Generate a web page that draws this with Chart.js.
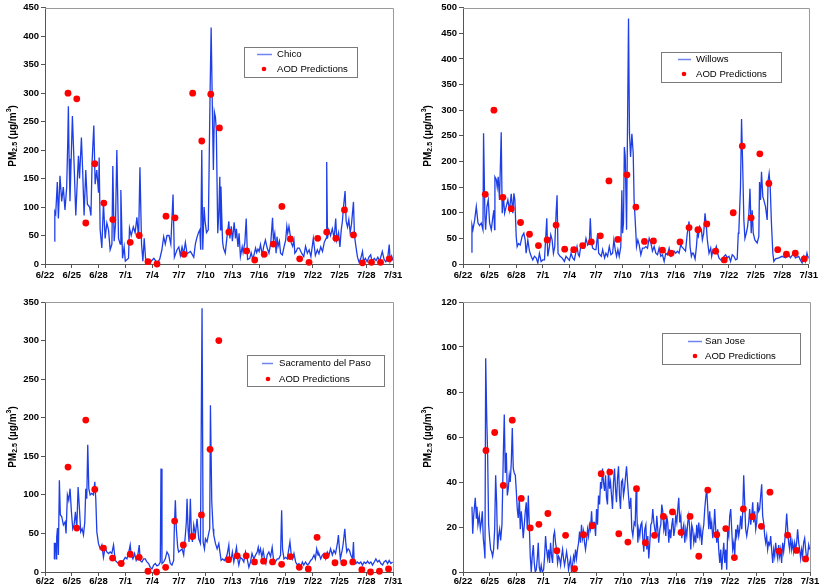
<!DOCTYPE html>
<html><head><meta charset="utf-8">
<script src="https://cdn.jsdelivr.net/npm/chart.js@4/dist/chart.umd.min.js"></script>
<style>
html,body{margin:0;padding:0;background:#fff;width:820px;height:588px;overflow:hidden}
canvas{position:absolute}
</style></head><body>
<canvas id="c1" width="410" height="294" style="left:0;top:0"></canvas>
<canvas id="c2" width="410" height="294" style="left:410px;top:0"></canvas>
<canvas id="c3" width="410" height="294" style="left:0;top:294px"></canvas>
<canvas id="c4" width="410" height="294" style="left:410px;top:294px"></canvas>
<script>
// x = days since 6/22
const dateLabels = ['6/22','6/25','6/28','7/1','7/4','7/7','7/10','7/13','7/16','7/19','7/22','7/25','7/28','7/31'];
const aodLabel = 'AOD Predictions';

const chicoPM = [[1.05,40],[1.1,92],[1.2,88],[1.38,144],[1.5,80],[1.68,155],[1.87,110],[2.05,135],[2.24,95],[2.43,135],[2.55,215],[2.62,277],[2.7,185],[2.8,110],[3.07,260],[3.25,180],[3.45,85],[3.63,150],[3.75,190],[3.87,150],[4.08,222],[4.23,160],[4.38,85],[4.57,165],[4.75,105],[5.0,100],[5.15,85],[5.28,180],[5.47,243],[5.62,140],[5.8,165],[6.0,125],[6.07,187],[6.18,60],[6.37,28],[6.55,108],[6.74,45],[6.93,72],[7.12,60],[7.3,25],[7.5,35],[7.6,172],[7.75,40],[7.9,70],[8.05,200],[8.24,45],[8.43,35],[8.5,130],[8.69,10],[8.87,30],[9.0,5],[9.36,10],[9.47,63],[9.66,50],[9.9,65],[10.1,55],[10.3,82],[10.49,45],[10.64,170],[10.82,35],[10.97,5],[11.12,45],[11.27,10],[11.42,5],[11.8,3],[12.2,10],[12.55,2],[12.85,8],[13.1,25],[13.3,48],[13.48,35],[13.67,50],[13.9,50],[14.1,35],[14.35,122],[14.5,12],[14.8,25],[15.0,30],[15.17,15],[15.36,30],[15.54,18],[15.73,38],[15.92,18],[16.3,22],[16.67,12],[16.85,35],[17.0,45],[17.2,55],[17.35,60],[17.45,25],[17.57,200],[17.68,25],[17.83,100],[17.94,75],[18.1,55],[18.3,60],[18.5,300],[18.62,415],[18.76,270],[18.87,165],[18.98,267],[19.1,258],[19.2,235],[19.36,54],[19.48,90],[19.59,153],[19.66,60],[19.72,136],[19.8,89],[19.9,40],[20.0,28],[20.2,19],[20.4,48],[20.6,75],[20.72,45],[20.88,66],[21.0,40],[21.2,73],[21.35,45],[21.45,62],[21.63,30],[21.75,54],[21.9,13],[22.1,30],[22.2,20],[22.4,38],[22.55,80],[22.7,8],[22.95,10],[23.1,20],[23.3,8],[23.6,28],[23.72,20],[23.87,26],[24.0,22],[24.15,34],[24.35,16],[24.5,30],[24.7,42],[24.9,28],[25.1,19],[25.3,37],[25.5,81],[25.6,42],[25.75,54],[25.9,19],[26.0,48],[26.12,31],[26.27,40],[26.4,19],[26.6,16],[26.8,31],[26.97,42],[27.1,66],[27.2,54],[27.34,66],[27.45,54],[27.6,37],[27.75,31],[27.9,42],[28.0,19],[28.15,22],[28.3,28],[28.5,28],[28.76,19],[29.0,13],[29.2,31],[29.4,19],[29.6,25],[29.8,13],[30.07,45],[30.3,15],[30.52,25],[30.7,18],[30.9,30],[31.1,22],[31.3,38],[31.5,45],[31.57,179],[31.66,45],[31.8,60],[32.0,50],[32.2,62],[32.4,45],[32.58,80],[32.7,42],[32.9,55],[33.05,30],[33.2,60],[33.33,75],[33.45,100],[33.63,128],[33.75,75],[33.9,65],[34.05,78],[34.2,55],[34.35,70],[34.57,109],[34.68,50],[34.85,30],[35.02,12],[35.2,3],[35.39,10],[35.58,22],[35.7,5],[35.9,10],[36.1,4],[36.3,12],[36.5,16],[36.65,4],[36.9,10],[37.1,6],[37.3,12],[37.5,5],[37.8,22],[38.0,8],[38.2,4],[38.4,10],[38.58,34],[38.68,5],[38.85,14],[39.0,6]];
const chicoAOD = [[2.58,300],[3.56,290],[4.57,72],[5.58,176],[6.59,107],[7.6,78],[9.55,38],[10.56,50],[11.54,4],[12.55,0],[13.56,84],[14.57,81],[15.58,17],[16.55,300],[17.57,216],[18.58,298],[19.55,239],[20.6,56],[22.6,23],[23.5,7],[24.57,17],[25.58,35],[26.55,101],[27.5,44],[28.54,9],[29.59,3],[30.56,45],[31.57,56],[32.6,45],[33.56,95],[34.57,51],[35.58,2],[36.59,3],[37.6,3],[38.57,9]];

const willowsPM = [[0.94,23],[1.01,76],[1.12,67],[1.31,85],[1.5,112],[1.69,80],[1.87,75],[2.06,80],[2.25,67],[2.32,255],[2.47,92],[2.55,67],[2.7,112],[2.85,125],[3.0,80],[3.19,67],[3.37,92],[3.49,105],[3.56,67],[3.6,170],[3.75,165],[3.86,150],[3.97,170],[4.12,125],[4.31,257],[4.42,99],[4.57,131],[4.69,99],[4.87,112],[5.06,125],[5.25,105],[5.44,137],[5.62,99],[5.74,138],[5.85,125],[6.0,54],[6.11,34],[6.26,40],[6.45,37],[6.67,54],[6.86,60],[7.01,47],[7.12,21],[7.31,47],[7.5,25],[7.69,15],[7.87,8],[8.06,15],[8.25,12],[8.44,2],[8.62,21],[8.81,5],[9.0,8],[9.19,8],[9.45,89],[9.56,15],[9.75,34],[9.9,57],[10.05,47],[10.2,21],[10.35,34],[10.5,99],[10.61,134],[10.72,21],[10.95,15],[11.17,12],[11.44,5],[11.62,15],[12.0,7],[12.19,21],[12.37,12],[12.56,8],[12.75,25],[12.86,34],[13.01,18],[13.12,15],[13.31,38],[13.5,31],[13.69,31],[13.87,50],[14.06,37],[14.25,41],[14.36,89],[14.47,47],[14.62,31],[14.85,28],[15.0,28],[15.19,60],[15.3,21],[15.45,18],[15.6,15],[15.75,28],[15.97,12],[16.12,21],[16.31,15],[16.5,34],[16.69,18],[16.87,21],[17.02,47],[17.17,28],[17.32,15],[17.47,28],[17.62,15],[17.8,34],[17.92,144],[18.0,60],[18.1,80],[18.2,228],[18.3,209],[18.45,67],[18.67,479],[18.78,254],[18.9,209],[19.05,254],[19.2,215],[19.3,125],[19.5,60],[19.57,34],[19.72,47],[19.87,38],[20.06,18],[20.25,31],[20.44,31],[20.62,34],[20.81,31],[21.0,50],[21.19,41],[21.37,25],[21.56,34],[21.75,21],[21.94,18],[22.12,31],[22.31,15],[22.5,18],[22.69,5],[22.87,21],[23.06,18],[23.25,31],[23.44,15],[23.62,18],[23.81,25],[24.0,21],[24.18,25],[24.37,21],[24.56,38],[24.67,34],[24.82,31],[25.1,25],[25.3,60],[25.5,83],[25.61,34],[25.76,15],[25.87,21],[25.99,21],[26.18,10],[26.33,34],[26.44,60],[26.55,54],[26.7,73],[26.89,67],[27.0,47],[27.15,60],[27.3,99],[27.45,73],[27.56,47],[27.75,21],[27.94,31],[28.05,15],[28.2,28],[28.42,25],[28.57,34],[28.72,21],[28.87,12],[29.06,8],[29.25,5],[29.44,15],[29.62,18],[29.81,12],[30.0,15],[30.18,5],[30.37,18],[30.56,15],[30.75,8],[30.93,10],[31.05,60],[31.12,67],[31.3,150],[31.42,283],[31.55,190],[31.68,86],[31.8,50],[31.95,60],[32.1,73],[32.25,99],[32.37,147],[32.51,60],[32.62,105],[32.74,60],[32.92,47],[33.18,41],[33.37,54],[33.45,160],[33.56,125],[33.67,180],[33.82,131],[33.93,125],[34.12,112],[34.31,86],[34.42,164],[34.53,177],[34.65,151],[34.79,80],[34.95,21],[35.06,5],[35.25,10],[35.62,12],[36.0,15],[36.37,12],[36.74,18],[36.93,12],[37.3,21],[37.49,12],[37.86,15],[38.05,8],[38.25,2],[38.44,15],[38.62,5],[38.8,21],[38.92,12],[39.0,15]];
const willowsAOD = [[2.51,136],[3.49,300],[4.5,130],[5.44,108],[6.49,81],[7.5,58],[8.51,36],[9.49,47],[10.5,76],[11.47,29],[12.49,28],[13.5,36],[14.47,43],[15.49,55],[16.46,162],[17.47,48],[18.49,174],[19.5,111],[20.47,44],[21.48,45],[22.5,27],[23.47,21],[24.48,43],[25.5,71],[26.5,67],[27.5,78],[28.5,25],[29.47,8],[30.48,100],[31.5,230],[32.5,90],[33.48,215],[34.5,157],[35.5,28],[36.48,19],[37.48,21],[38.5,10]];

const sacPM = [[1.01,17],[1.05,37],[1.16,37],[1.24,17],[1.31,45],[1.4,57],[1.5,22],[1.61,119],[1.72,74],[1.87,72],[2.06,61],[2.25,65],[2.36,50],[2.51,100],[2.66,93],[2.81,108],[2.96,78],[3.11,56],[3.26,61],[3.41,78],[3.56,56],[3.71,110],[3.86,82],[4.0,52],[4.16,56],[4.31,48],[4.46,65],[4.57,108],[4.68,95],[4.79,165],[4.91,108],[5.06,100],[5.24,102],[5.43,100],[5.58,117],[5.69,95],[5.81,52],[5.99,37],[6.18,30],[6.37,35],[6.55,19],[6.74,32],[6.93,26],[7.12,24],[7.3,26],[7.49,24],[7.68,35],[7.87,15],[8.05,13],[8.24,11],[8.43,13],[8.61,11],[8.8,15],[8.99,19],[9.18,17],[9.36,24],[9.55,35],[9.66,22],[9.85,17],[10.04,24],[10.22,15],[10.37,19],[10.56,35],[10.67,15],[10.86,13],[11.05,17],[11.24,17],[11.42,13],[11.61,11],[11.8,6],[11.99,4],[12.17,9],[12.36,11],[12.55,8],[12.73,9],[12.92,13],[13.0,134],[13.11,11],[13.3,13],[13.48,17],[13.67,26],[13.86,22],[14.04,11],[14.23,9],[14.42,15],[14.49,56],[14.61,93],[14.72,56],[14.87,32],[14.98,26],[15.17,28],[15.36,30],[15.54,22],[15.73,48],[15.84,65],[15.92,95],[16.03,56],[16.14,39],[16.29,95],[16.4,52],[16.52,39],[16.67,61],[16.85,48],[17.04,69],[17.23,43],[17.42,37],[17.6,342],[17.72,39],[17.87,30],[17.98,43],[18.16,39],[18.31,48],[18.46,56],[18.54,216],[18.69,91],[18.84,56],[18.91,48],[19.1,37],[19.29,30],[19.48,37],[19.6,26],[19.74,15],[19.9,17],[20.1,15],[20.3,19],[20.4,22],[20.6,35],[20.72,15],[20.87,17],[21.0,26],[21.16,13],[21.3,22],[21.46,32],[21.6,17],[21.72,9],[21.9,19],[22.1,17],[22.28,13],[22.47,26],[22.66,17],[22.85,6],[23.03,13],[23.2,24],[23.4,17],[23.6,22],[23.78,26],[23.9,32],[24.0,24],[24.15,30],[24.3,19],[24.45,28],[24.6,17],[24.75,11],[24.9,22],[25.09,26],[25.28,20],[25.46,32],[25.6,17],[25.8,13],[26.03,17],[26.2,17],[26.4,22],[26.52,80],[26.62,30],[26.78,17],[26.97,19],[27.15,17],[27.3,28],[27.45,39],[27.6,22],[27.75,17],[27.9,24],[28.09,13],[28.28,9],[28.46,11],[28.65,6],[28.84,13],[29.0,9],[29.2,13],[29.4,9],[29.58,11],[29.77,15],[29.95,17],[30.15,22],[30.3,17],[30.45,30],[30.6,22],[30.7,24],[30.9,17],[31.08,22],[31.27,24],[31.46,17],[31.64,26],[31.83,22],[32.0,30],[32.2,22],[32.38,28],[32.56,24],[32.77,37],[32.88,48],[33.0,30],[33.1,17],[33.3,28],[33.4,35],[33.6,56],[33.7,39],[33.82,26],[33.97,30],[34.12,28],[34.27,22],[34.46,17],[34.57,39],[34.65,13],[34.83,11],[35.0,13],[35.2,11],[35.39,13],[35.58,9],[35.77,13],[35.96,11],[36.15,14],[36.33,11],[36.52,13],[36.7,9],[36.9,13],[37.08,17],[37.27,13],[37.45,15],[37.64,11],[37.83,9],[38.0,13],[38.2,15],[38.4,11],[38.57,15],[38.76,11],[38.95,13]];
const sacAOD = [[2.58,136],[3.56,57],[4.57,197],[5.58,107],[6.55,31],[7.57,18],[8.54,11],[9.55,23],[10.56,19],[11.54,1],[12.5,0],[13.52,6],[14.53,66],[15.5,35],[16.52,46],[17.53,74],[18.5,159],[19.48,300],[20.56,16],[21.54,21],[22.55,21],[23.48,13],[24.49,14],[25.5,13],[26.52,10],[27.49,20],[28.5,6],[29.51,4],[30.49,45],[31.49,21],[32.5,12],[33.48,12],[34.49,13],[35.51,3],[36.48,0],[37.48,1],[38.5,4]];

const sjPM = [[1.01,29],[1.09,17],[1.2,25],[1.38,33],[1.5,24],[1.57,29],[1.68,21],[1.83,25],[1.95,19],[2.06,22],[2.17,27],[2.28,15],[2.4,10],[2.47,6],[2.55,95],[2.66,70],[2.77,52],[2.88,21],[2.99,15],[3.11,10],[3.22,9],[3.33,7],[3.44,10],[3.56,19],[3.67,43],[3.78,31],[3.89,10],[4.0,16],[4.12,19],[4.23,14],[4.38,21],[4.53,52],[4.64,70],[4.75,44],[4.87,53],[4.98,34],[5.09,37],[5.2,43],[5.31,40],[5.43,49],[5.54,64],[5.65,46],[5.76,44],[5.88,43],[5.99,36],[6.1,28],[6.21,24],[6.33,33],[6.44,19],[6.55,27],[6.66,22],[6.77,15],[6.89,21],[7.0,27],[7.11,31],[7.22,19],[7.34,34],[7.45,21],[7.56,7],[7.67,0],[7.78,7],[7.9,12],[8.01,4],[8.12,0],[8.23,1],[8.35,6],[8.46,13],[8.57,2],[8.68,0],[8.79,3],[8.91,0],[9.06,1],[9.17,7],[9.28,16],[9.39,10],[9.51,6],[9.62,10],[9.73,4],[9.84,13],[9.96,7],[10.07,4],[10.18,16],[10.29,18],[10.4,13],[10.52,10],[10.63,4],[10.74,7],[10.85,6],[10.97,3],[11.08,7],[11.19,10],[11.3,6],[11.41,3],[11.53,6],[11.64,9],[11.75,6],[11.86,1],[11.98,4],[12.09,6],[12.2,0],[12.31,3],[12.43,7],[12.54,5],[12.65,10],[12.76,6],[12.87,10],[12.99,13],[13.1,18],[13.21,13],[13.32,21],[13.44,15],[13.55,18],[13.66,13],[13.77,10],[13.89,14],[14.0,19],[14.11,16],[14.22,21],[14.33,19],[14.45,27],[14.56,19],[14.67,22],[14.78,22],[14.9,16],[15.01,28],[15.12,21],[15.23,34],[15.35,30],[15.46,40],[15.57,37],[15.68,46],[15.79,40],[15.91,36],[16.02,43],[16.13,33],[16.24,30],[16.35,46],[16.47,37],[16.58,40],[16.69,34],[16.8,28],[16.92,40],[17.03,46],[17.14,37],[17.25,31],[17.37,42],[17.48,47],[17.59,34],[17.7,28],[17.81,40],[17.93,41],[18.04,34],[18.15,37],[18.26,42],[18.38,47],[18.49,40],[18.6,34],[18.71,28],[18.86,33],[18.97,19],[19.09,16],[19.24,22],[19.35,21],[19.46,37],[19.54,27],[19.65,13],[19.76,19],[19.87,16],[19.99,21],[20.1,22],[20.21,15],[20.32,9],[20.43,19],[20.55,21],[20.66,10],[20.77,16],[20.88,6],[21.0,13],[21.11,21],[21.22,22],[21.33,28],[21.45,22],[21.56,19],[21.67,16],[21.78,25],[21.89,19],[22.0,13],[22.12,19],[22.23,21],[22.34,30],[22.45,27],[22.57,19],[22.68,22],[22.79,16],[22.9,25],[23.01,22],[23.13,13],[23.24,19],[23.35,15],[23.47,21],[23.58,24],[23.69,16],[23.8,19],[23.91,25],[24.03,22],[24.14,28],[24.25,33],[24.36,22],[24.48,25],[24.59,15],[24.7,19],[24.81,21],[24.93,13],[25.04,19],[25.15,16],[25.26,22],[25.37,25],[25.49,19],[25.6,10],[25.71,21],[25.82,19],[25.94,13],[26.05,16],[26.16,13],[26.27,21],[26.38,15],[26.5,22],[26.61,16],[26.72,19],[26.83,12],[26.95,18],[27.06,21],[27.17,28],[27.28,33],[27.39,37],[27.51,28],[27.62,19],[27.73,27],[27.84,19],[27.95,22],[28.07,15],[28.18,19],[28.29,28],[28.4,19],[28.52,13],[28.63,19],[28.74,10],[28.86,4],[28.97,10],[29.08,1],[29.19,7],[29.31,13],[29.42,4],[29.53,10],[29.64,1],[29.75,19],[29.87,16],[29.98,25],[30.09,28],[30.2,19],[30.31,10],[30.43,13],[30.54,7],[30.65,19],[30.76,16],[30.87,21],[30.99,16],[31.1,19],[31.21,25],[31.33,19],[31.44,27],[31.55,43],[31.66,31],[31.77,19],[31.89,16],[32.0,19],[32.11,22],[32.22,28],[32.34,21],[32.45,25],[32.56,31],[32.67,22],[32.78,27],[32.9,19],[33.01,22],[33.12,31],[33.23,27],[33.34,28],[33.46,34],[33.57,39],[33.68,25],[33.79,22],[33.91,16],[34.02,13],[34.13,16],[34.24,10],[34.35,13],[34.47,12],[34.58,16],[34.69,10],[34.81,4],[34.92,10],[35.03,7],[35.14,13],[35.25,9],[35.37,6],[35.48,12],[35.59,7],[35.7,10],[35.81,4],[35.93,13],[36.04,9],[36.15,13],[36.27,19],[36.38,26],[36.49,19],[36.6,13],[36.71,10],[36.83,16],[36.94,10],[37.05,13],[37.16,9],[37.28,13],[37.39,10],[37.5,13],[37.61,19],[37.73,13],[37.84,10],[37.95,6],[38.06,10],[38.17,7],[38.28,13],[38.4,15],[38.51,10],[38.62,6],[38.73,7],[38.85,12],[38.96,10]];
const sjAOD = [[2.58,54],[3.56,62],[4.53,38.5],[5.54,67.5],[6.55,32.7],[7.56,19.6],[8.53,21.2],[9.54,26],[10.55,9.5],[11.53,16.3],[12.54,1.5],[13.55,16.6],[14.52,20.6],[15.53,43.7],[16.5,44.4],[17.51,17],[18.53,13.3],[19.5,37],[20.5,13],[21.52,16.3],[22.53,24.7],[23.54,26.7],[24.51,17.6],[25.52,24.7],[26.5,7],[27.51,36.4],[28.52,16.6],[29.53,19.3],[30.5,6.4],[31.51,28],[32.52,24.6],[33.53,20.3],[34.5,35.5],[35.52,9.3],[36.49,16.4],[37.5,9.6],[38.51,5.8]];

const FONT = "'Liberation Sans', Arial, sans-serif";
const LINE_COLOR = '#1f3fe6';
const LEGEND_LINE_COLOR = '#6f84f2';
const DOT_COLOR = '#ff0000';
Chart.defaults.font.family = FONT;
Chart.defaults.color = '#000';

const framePlugin = {
  id: 'frame',
  afterDraw(chart) {
    const {ctx, chartArea: a} = chart;
    ctx.save();
    ctx.strokeStyle = '#9a9a9a';
    ctx.lineWidth = 1;
    ctx.beginPath();
    ctx.moveTo(a.left, Math.round(a.top) + 0.5);
    ctx.lineTo(Math.round(a.right) + 0.5, Math.round(a.top) + 0.5);
    ctx.lineTo(Math.round(a.right) + 0.5, a.bottom);
    ctx.stroke();
    ctx.restore();
  }
};

const yTitlePlugin = {
  id: 'yTitle',
  afterDraw(chart, args, o) {
    const {ctx, chartArea: a} = chart;
    const parts = [
      {t: 'PM', s: 10, dy: 0},
      {t: '2.5', s: 7, dy: 2.5},
      {t: ' (\u00B5g/m', s: 10, dy: 0},
      {t: '3', s: 7, dy: -3.5},
      {t: ')', s: 10, dy: 0}
    ];
    ctx.save();
    ctx.translate(a.left - o.offset, (a.top + a.bottom) / 2);
    ctx.rotate(-Math.PI / 2);
    ctx.fillStyle = '#000';
    ctx.textBaseline = 'middle';
    ctx.textAlign = 'left';
    let total = 0;
    parts.forEach(p => { ctx.font = 'bold ' + p.s + 'px ' + FONT; p.w = ctx.measureText(p.t).width; total += p.w; });
    let x = -total / 2;
    parts.forEach(p => { ctx.font = 'bold ' + p.s + 'px ' + FONT; ctx.fillText(p.t, x, p.dy); x += p.w; });
    ctx.restore();
  }
};

const boxLegendPlugin = {
  id: 'boxLegend',
  afterDraw(chart, args, o) {
    const ctx = chart.ctx;
    const [bx, by, bw, bh] = o.box;
    const ds = chart.data.datasets;
    const lineDs = ds.find(d => d.showLine);
    const dotDs = ds.find(d => !d.showLine);
    ctx.save();
    ctx.fillStyle = '#fff';
    ctx.fillRect(bx, by, bw, bh);
    ctx.strokeStyle = '#7a7a7a';
    ctx.lineWidth = 1;
    ctx.strokeRect(bx + 0.5, by + 0.5, bw, bh);
    ctx.strokeStyle = LEGEND_LINE_COLOR;
    ctx.lineWidth = 1.5;
    ctx.beginPath();
    ctx.moveTo(o.lineX[0], o.row1 + 0.5);
    ctx.lineTo(o.lineX[1], o.row1 + 0.5);
    ctx.stroke();
    ctx.fillStyle = dotDs.backgroundColor;
    ctx.beginPath();
    ctx.arc(o.dotX, o.row2, 2.3, 0, Math.PI * 2);
    ctx.fill();
    ctx.fillStyle = '#000';
    ctx.font = '9.6px ' + FONT;
    ctx.textBaseline = 'middle';
    ctx.fillText(lineDs.label, o.textX, o.row1 + 0.5);
    ctx.fillText(dotDs.label, o.textX, o.row2 + 0.5);
    ctx.restore();
  }
};

function makeChart(id, station, pm, aod, yMax, yStep, g) {
  const tickFont = {size: 9.5, family: FONT, weight: 'bold'};
  return new Chart(document.getElementById(id), {
    type: 'scatter',
    data: {
      datasets: [
        {label: aodLabel, data: aod.map(([x, y]) => ({x, y})), showLine: false, order: 0,
         pointRadius: 3.4, pointHoverRadius: 3.4, backgroundColor: DOT_COLOR, borderColor: DOT_COLOR, borderWidth: 0, clip: false},
        {label: station, data: pm.map(([x, y]) => ({x, y})), showLine: true, order: 1,
         pointRadius: 0, pointHoverRadius: 0, borderColor: LINE_COLOR, backgroundColor: LINE_COLOR, borderWidth: 1.3, tension: 0}
      ]
    },
    options: {
      responsive: false, animation: false, events: [], devicePixelRatio: 1,
      layout: {padding: {top: g.padTop, right: g.padRight, left: 0, bottom: 0}},
      plugins: {
        legend: {display: false}, tooltip: {enabled: false},
        yTitle: {offset: g.titleOffset},
        boxLegend: g.legend
      },
      scales: {
        x: {
          type: 'linear', min: 0, max: 39,
          ticks: {stepSize: 3, autoSkip: false, maxRotation: 0, font: tickFont, color: '#000', padding: g.xPad,
                  callback: v => dateLabels[Math.round(v / 3)]},
          grid: {drawOnChartArea: false, drawTicks: true, tickLength: 4, color: '#555'},
          border: {display: true, color: '#555', width: 1},
          afterFit: s => { s.height = g.bottomH; }
        },
        y: {
          min: 0, max: yMax,
          ticks: {stepSize: yStep, font: tickFont, color: '#000', padding: 2},
          grid: {drawOnChartArea: false, drawTicks: true, tickLength: 4, color: '#555'},
          border: {display: true, color: '#555', width: 1},
          afterFit: s => { s.width = g.leftW; }
        }
      }
    },
    plugins: [framePlugin, yTitlePlugin, boxLegendPlugin]
  });
}

makeChart('c1', 'Chico', chicoPM, chicoAOD, 450, 50,
  {leftW: 45, padTop: 7, padRight: 17, bottomH: 30, xPad: 2, titleOffset: 32,
   legend: {box: [244, 47, 113, 30], row1: 54, row2: 69, lineX: [257, 272], dotX: 264, textX: 277}});
makeChart('c2', 'Willows', willowsPM, willowsAOD, 500, 50,
  {leftW: 53, padTop: 7, padRight: 10, bottomH: 30, xPad: 2, titleOffset: 35,
   legend: {box: [251, 52, 120, 30], row1: 59, row2: 74, lineX: [268, 281], dotX: 274, textX: 286}});
makeChart('c3', 'Sacramento del Paso', sacPM, sacAOD, 350, 50,
  {leftW: 45, padTop: 8, padRight: 17, bottomH: 16, xPad: 0, titleOffset: 32,
   legend: {box: [247, 61, 137, 31], row1: 69, row2: 85, lineX: [262, 273], dotX: 268, textX: 279}});
makeChart('c4', 'San Jose', sjPM, sjAOD, 120, 20,
  {leftW: 53, padTop: 8, padRight: 10, bottomH: 16, xPad: 0, titleOffset: 35,
   legend: {box: [252, 39, 138, 31], row1: 47, row2: 62, lineX: [278, 292], dotX: 285, textX: 295}});
</script>
</body></html>
